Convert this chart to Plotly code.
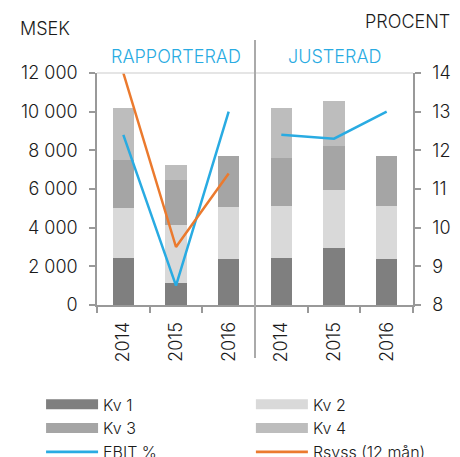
import plotly.graph_objects as go

# ---- data ----
x_labels = ["2014", "2015", "2016", "2014", "2015", "2016"]
x_pos = [0, 1, 2, 3, 4, 5]
section_labels = ["RAPPORTERAD", "JUSTERAD"]
section_centers = [1, 4]

kv1 = [2430, 1160, 2360, 2430, 2930, 2360]
kv2 = [2590, 3000, 2730, 2670, 3010, 2740]
kv3 = [2480, 2280, 2610, 2500, 2310, 2600]
kv4 = [2700, 795, 0, 2600, 2320, 0]

ebit_rapp = [12.4, 8.5, 13.0]
ebit_just = [12.4, 12.3, 13.0]
rsyss_rapp = [14.0, 9.5, 11.4]

FONT = "Inter"
W = 300
TXT = "#1a1a1a"
BLUE = "#29abe2"
ORANGE = "#eb7a2e"
AX = "#999999"
bar_colors = {"Kv 1": "#7f7f7f", "Kv 2": "#d9d9d9", "Kv 3": "#a5a5a5", "Kv 4": "#bdbdbd"}


def f(size, color=TXT):
    return dict(family=FONT, size=size, color=color, weight=W)


fig = go.Figure()

bars = [("Kv 1", kv1), ("Kv 2", kv2), ("Kv 3", kv3), ("Kv 4", kv4)]
for name, vals in bars:
    fig.add_trace(go.Bar(
        x=x_pos, y=vals, name=name, legendgroup=name, showlegend=False,
        marker=dict(color=bar_colors[name], line=dict(width=0)),
        width=0.4, yaxis="y",
    ))

# lines on the percent axis
fig.add_trace(go.Scatter(x=x_pos[:3], y=ebit_rapp, mode="lines", name="EBIT %",
                         legendgroup="ebit", showlegend=False,
                         line=dict(color=BLUE, width=2.5), yaxis="y2", cliponaxis=False))
fig.add_trace(go.Scatter(x=x_pos[3:], y=ebit_just, mode="lines", name="EBIT %",
                         legendgroup="ebit", showlegend=False,
                         line=dict(color=BLUE, width=2.5), yaxis="y2", cliponaxis=False))
fig.add_trace(go.Scatter(x=x_pos[:3], y=rsyss_rapp, mode="lines", name="Rsyss (12 mån)",
                         legendgroup="rsyss", showlegend=False,
                         line=dict(color=ORANGE, width=2.5), yaxis="y2", cliponaxis=False))

# legend entries (two columns)
legend_items = [
    ("Kv 1", bar_colors["Kv 1"], 10, "legend", "Kv 1"),
    ("Kv 3", bar_colors["Kv 3"], 10, "legend", "Kv 3"),
    ("EBIT %", BLUE, 2.8, "legend", "ebit"),
    ("Kv 2", bar_colors["Kv 2"], 10, "legend2", "Kv 2"),
    ("Kv 4", bar_colors["Kv 4"], 10, "legend2", "Kv 4"),
    ("Rsyss (12 mån)", ORANGE, 2.8, "legend2", "rsyss"),
]
for i, (name, col, w, leg, grp) in enumerate(legend_items):
    fig.add_trace(go.Scatter(x=[None], y=[None], mode="lines", name=name,
                             legendgroup=grp, legend=leg, legendrank=i,
                             line=dict(color=col, width=w), yaxis="y"))

leg_common = dict(orientation="v", xanchor="left", yanchor="top",
                  font=f(16), bgcolor="rgba(0,0,0,0)", itemwidth=52,
                  tracegroupgap=0, itemclick=False, itemdoubleclick=False)

# The page places the figure 8 px in from the top-left corner, so the
# figure is sized/margined to land where the reference draws it.
fig.update_layout(
    template="none",
    width=452, height=449,
    margin=dict(l=89, r=47, t=65, b=152, autoexpand=False),
    paper_bgcolor="white", plot_bgcolor="white",
    barmode="stack",
    separators=", ",
    font=f(16),
    showlegend=True,
    legend=dict(x=-0.177, y=-0.355, **leg_common),
    legend2=dict(x=0.487, y=-0.355, **leg_common),
    xaxis=dict(
        range=[-0.5, 5.5], tickmode="array", tickvals=x_pos, ticktext=x_labels,
        tickangle=-90, ticks="", showgrid=False, zeroline=False, automargin=False,
        showline=True, linecolor=AX, linewidth=1.5, ticklabelstandoff=8,
        tickfont=f(18),
        minor=dict(tickmode="array", tickvals=[-0.5, 0.5, 1.5, 2.5, 3.5, 4.5, 5.5],
                   ticks="outside", ticklen=6, tickwidth=1.5, tickcolor=AX),
        fixedrange=True,
    ),
    yaxis=dict(
        range=[0, 12000], dtick=2000, tickformat=",d", showgrid=False, zeroline=False,
        showline=True, linecolor=AX, linewidth=1.5, automargin=False,
        ticks="outside", ticklen=6, tickwidth=1.5, tickcolor=AX, ticklabelstandoff=8,
        tickfont=f(18), fixedrange=True,
    ),
    yaxis2=dict(
        range=[8, 14], dtick=1, overlaying="y", side="right", showgrid=False,
        zeroline=False, showline=True, linecolor=AX, linewidth=1.5, automargin=False,
        ticks="outside", ticklen=6, tickwidth=1.5, tickcolor=AX, ticklabelstandoff=8,
        tickfont=f(18), fixedrange=True,
    ),
)

# top border and section separator
fig.add_shape(type="line", xref="paper", yref="paper", x0=0, x1=1, y0=1, y1=1,
              line=dict(color="#dddddd", width=1.5))
fig.add_shape(type="line", xref="x", yref="paper", x0=2.5, x1=2.5, y0=-0.228, y1=1.142,
              line=dict(color="#aaaaaa", width=2))

for lab, cx in zip(section_labels, section_centers):
    fig.add_annotation(x=cx, y=1.070, xref="x", yref="paper", text=lab, showarrow=False,
                       font=f(18, BLUE), xanchor="center", yanchor="middle")

fig.add_annotation(x=-0.25, y=1.19, xref="paper", yref="paper", text="MSEK",
                   showarrow=False, xanchor="left", yanchor="middle", font=f(18))
fig.add_annotation(x=1.123, y=1.222, xref="paper", yref="paper", text="PROCENT",
                   showarrow=False, xanchor="right", yanchor="middle", font=f(18))

fig.write_html("out.html")
